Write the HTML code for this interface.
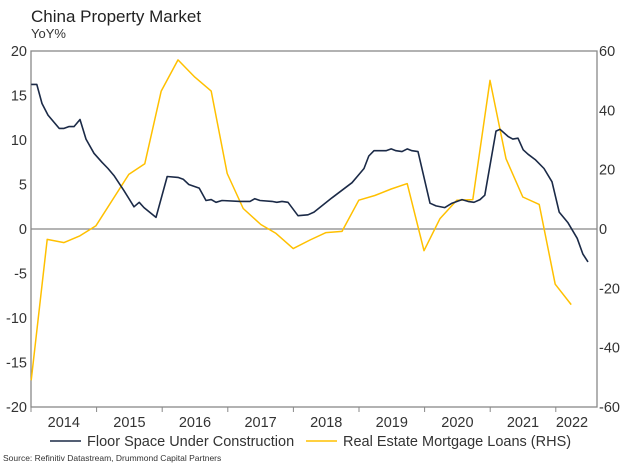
<!DOCTYPE html>
<html><head><meta charset="utf-8"><style>
body{margin:0;background:#fff;font-family:"Liberation Sans",Arial,sans-serif;}
svg text{font-family:"Liberation Sans",Arial,sans-serif;}
</style></head><body>
<svg id="chart" width="621" height="466" viewBox="0 0 621 466">
<text x="31" y="22" font-size="17" fill="#222">China Property Market</text>
<text x="31" y="38" font-size="13" fill="#333">YoY%</text>
<g id="axes"></g>
<g id="series"></g>
<g>
<line x1="50" y1="441" x2="81" y2="441" stroke="#1b2a47" stroke-width="1.5"/>
<text x="87" y="446" font-size="14.5" fill="#333">Floor Space Under Construction</text>
<line x1="306" y1="441" x2="337" y2="441" stroke="#ffc000" stroke-width="1.5"/>
<text x="343" y="446" font-size="14.5" fill="#333">Real Estate Mortgage Loans (RHS)</text>
</g>
<text x="3" y="461" font-size="8.5" fill="#333">Source: Refinitiv Datastream, Drummond Capital Partners</text>
</svg>
<script>
const floorZx=[78,92,105,120,148,160,172,185,200,215,235,255,270,285,310,335,348,360,390,418,445,458,472,498,515,528,540,555,600,625,637,650,680,692,705,720,745,770,785,830,880,895,910,922,935,965,978,990,1005,1018,1030,1045,1075,1090,1112,1130,1155,1170,1185,1200,1212,1240,1250,1270,1282,1295,1308,1320,1338,1360,1380,1398,1420,1443,1457,1470];
const floorVals=[16.25,16.25,14.1,12.8,11.3,11.3,11.5,11.5,12.3,10.1,8.5,7.5,6.8,6.0,4.3,2.5,3.0,2.4,1.3,5.9,5.8,5.6,5.0,4.6,3.2,3.3,3.0,3.2,3.1,3.1,3.4,3.2,3.1,3.0,3.1,3.0,1.5,1.6,1.9,3.5,5.2,6.0,6.8,8.2,8.8,8.8,9.0,8.8,8.7,9.0,8.8,8.7,2.9,2.6,2.4,2.9,3.3,3.1,3.0,3.3,3.8,11.0,11.2,10.4,10.1,10.2,8.9,8.4,7.8,6.8,5.3,1.9,0.7,-1.05,-2.8,-3.7];
const loanZx=[78,118,160,200,240,322,362,403,445,487,528,568,608,652,690,733,775,815,855,897,937,978,1018,1060,1100,1142,1182,1225,1265,1307,1348,1388,1428];
const loanVals=[-51,-3.5,-4.6,-2.3,1.1,18.4,22,46.5,57,51.2,46.5,18.7,6.9,1.5,-1.5,-6.6,-3.7,-1.2,-0.8,9.7,11.3,13.5,15.3,-7.3,3.5,9.7,9.9,50.1,23.7,10.8,8.3,-18.6,-25.5];
const floorDates=floorZx.map(z=>2014+(z/2.5-31)/65.6);
const loanDates=loanZx.map(z=>2014+(z/2.5-31)/65.6);
const leftTicks=[20,15,10,5,0,-5,-10,-15,-20];
const rightTicks=[60,40,20,0,-20,-40,-60];
const years=[2014,2015,2016,2017,2018,2019,2020,2021,2022];

const L=31,R=597,T=51,B=407;
const x=t=>L+(t-2014)*65.6;
const yL=v=>T+(20-v)/40*(B-T);
const yR=v=>T+(60-v)/120*(B-T);
const NS="http://www.w3.org/2000/svg";
function mk(tag,attrs,parent){const e=document.createElementNS(NS,tag);for(const k in attrs)e.setAttribute(k,attrs[k]);parent.appendChild(e);return e;}
const axes=document.getElementById('axes'),series=document.getElementById('series');

let e=mk('rect',{x:L,y:T,width:R-L,height:B-T,fill:'none',stroke:'#888','stroke-width':1.3},axes);


e=mk('line',{x1:L,x2:R,y1:yL(0),y2:yL(0),stroke:'#888','stroke-width':1.3},axes);


leftTicks.forEach(v=>{
  const t=mk('text',{x:L-4,y:yL(v)+5,'font-size':14.5,fill:'#333','text-anchor':'end'},axes);t.textContent=v;
  
  
});
rightTicks.forEach(v=>{
  const t=mk('text',{x:R+2,y:yR(v)+5,'font-size':14.5,fill:'#333'},axes);t.textContent=v;
  
  
});
years.forEach(yr=>{
  const tk=mk('line',{x1:x(yr),x2:x(yr),y1:B,y2:B+5,stroke:'#888','stroke-width':1},axes);
  
  
  const cx=Math.min(x(yr+0.5),572);
  const t=mk('text',{x:cx,y:B+20,'font-size':14.5,fill:'#333','text-anchor':'middle'},axes);t.textContent=yr;
  
  
});
e=mk('polyline',{points:loanDates.map((d,i)=>x(d).toFixed(1)+','+yR(loanVals[i]).toFixed(1)).join(' '),fill:'none',stroke:'#ffc000','stroke-width':1.5,'stroke-linejoin':'round'},series);


e=mk('polyline',{points:floorDates.map((d,i)=>x(d).toFixed(1)+','+yL(floorVals[i]).toFixed(1)).join(' '),fill:'none',stroke:'#1b2a47','stroke-width':1.6,'stroke-linejoin':'round'},series);


</script>
</body></html>
